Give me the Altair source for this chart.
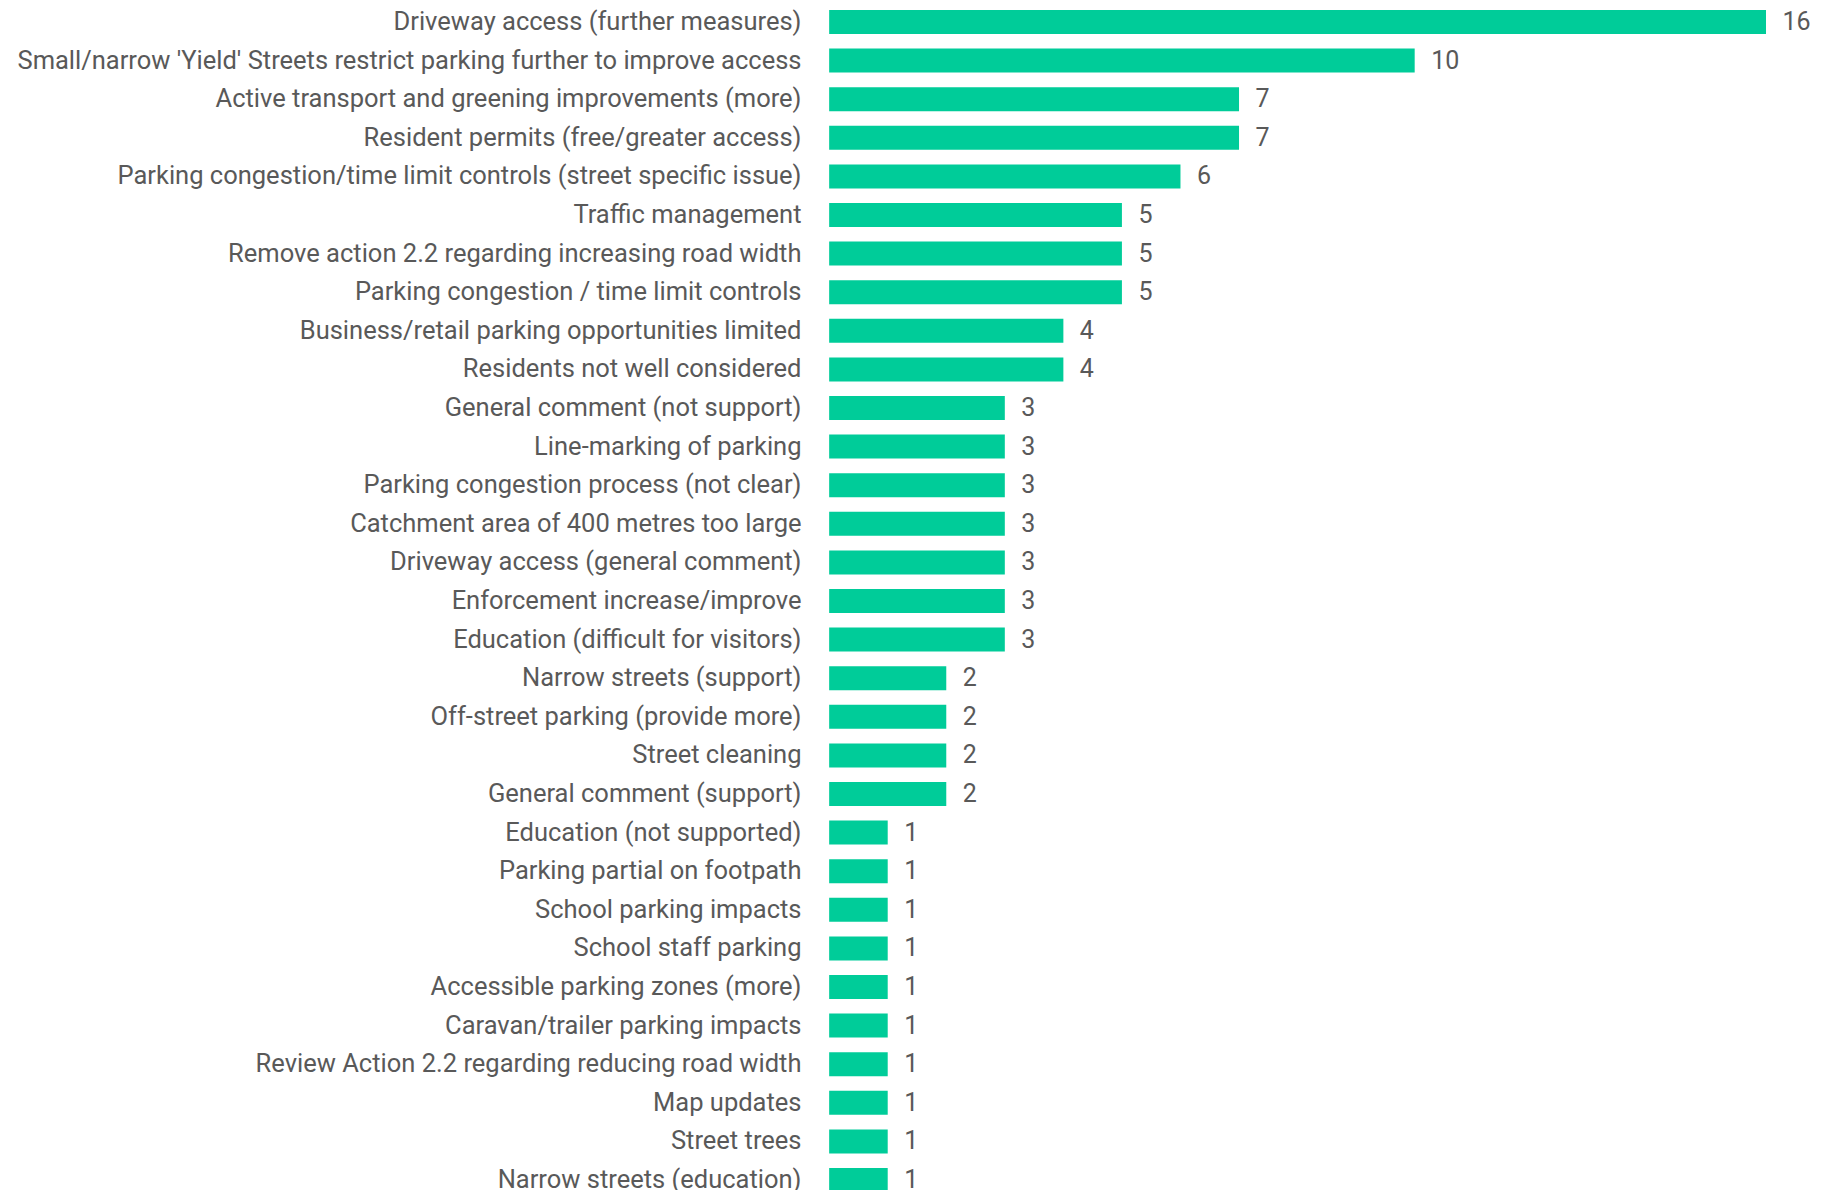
import altair as alt
import pandas as pd

categories = [
    "Driveway access (further measures)",
    "Small/narrow 'Yield' Streets restrict parking further to improve access",
    "Active transport and greening improvements (more)",
    "Resident permits (free/greater access)",
    "Parking congestion/time limit controls (street specific issue)",
    "Traffic management",
    "Remove action 2.2 regarding increasing road width",
    "Parking congestion / time limit controls",
    "Business/retail parking opportunities limited",
    "Residents not well considered",
    "General comment (not support)",
    "Line-marking of parking",
    "Parking congestion process (not clear)",
    "Catchment area of 400 metres too large",
    "Driveway access (general comment)",
    "Enforcement increase/improve",
    "Education (difficult for visitors)",
    "Narrow streets (support)",
    "Off-street parking (provide more)",
    "Street cleaning",
    "General comment (support)",
    "Education (not supported)",
    "Parking partial on footpath",
    "School parking impacts",
    "School staff parking",
    "Accessible parking zones (more)",
    "Caravan/trailer parking impacts",
    "Review Action 2.2 regarding reducing road width",
    "Map updates",
    "Street trees",
    "Narrow streets (education)",
]
values = [16, 10, 7, 7, 6, 5, 5, 5, 4, 4, 3, 3, 3, 3, 3, 3, 3, 2, 2, 2, 2,
          1, 1, 1, 1, 1, 1, 1, 1, 1, 1]

df = pd.DataFrame({"category": categories, "count": values})

FONT = "Liberation Sans Narrow, Arial Narrow, Roboto, sans-serif"
GREY = "#595959"
FS = 25.5

base = alt.Chart(df).encode(
    y=alt.Y(
        "category:N",
        sort=None,
        scale=alt.Scale(paddingInner=0.378, paddingOuter=0, range=[-4, 1178]),
        axis=alt.Axis(
            title=None, domain=False, ticks=False, grid=False,
            labelFont=FONT, labelFontSize=FS, labelColor=GREY,
            labelPadding=25, labelLimit=0,
        ),
    ),
    x=alt.X("count:Q", scale=alt.Scale(domain=[-0.054, 16], nice=False, zero=False), axis=None),
)

bars = base.mark_bar(color="#00CC99").encode(x2=alt.value(0))
labels = base.mark_text(
    align="left", baseline="middle", dx=16.5, font=FONT, fontSize=25, color=GREY
).encode(text="count:Q")

chart = (
    (bars + labels)
    .properties(
        width=940,
        height=1176,
        padding={"left": 818, "top": 6, "right": 50, "bottom": 0},
        autosize=alt.AutoSizeParams(type="none"),
    )
    .configure_view(stroke=None)
)

chart.save("out.html", embed_options={"renderer": "svg", "actions": False})
